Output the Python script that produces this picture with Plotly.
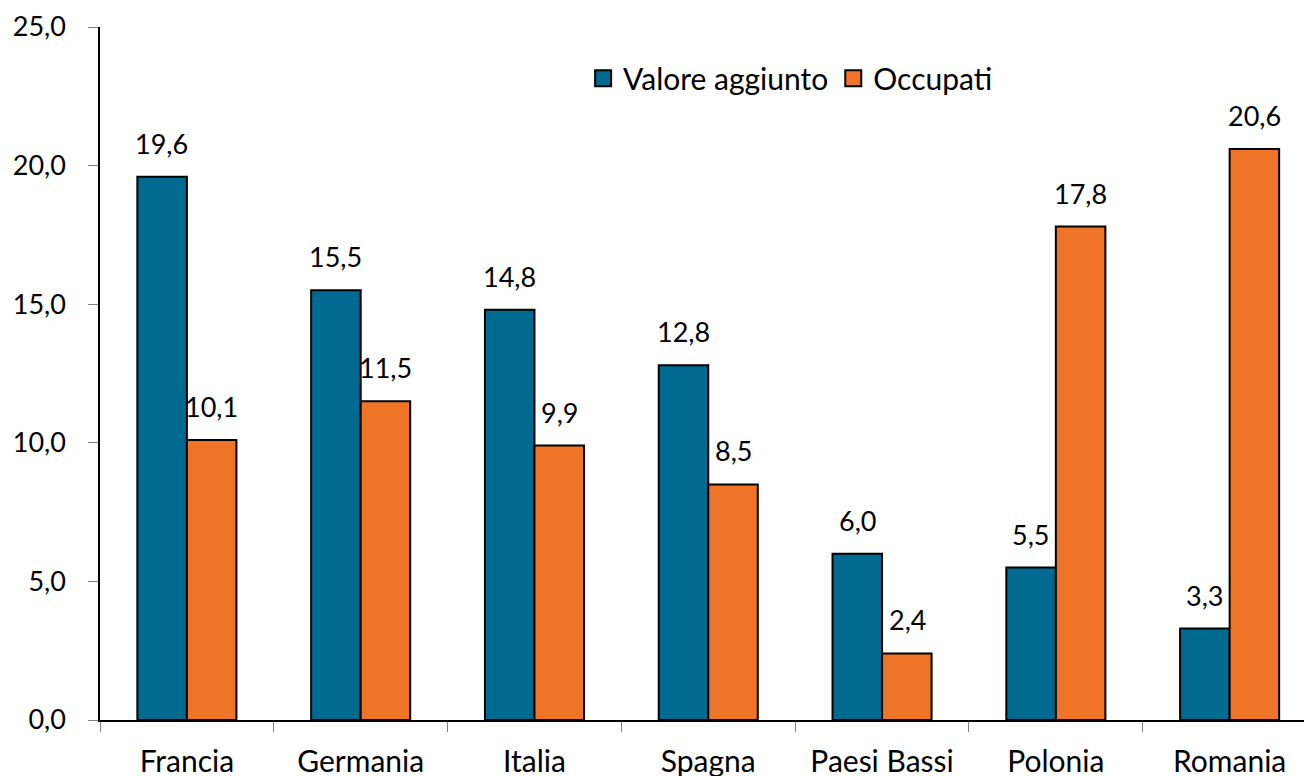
import plotly.graph_objects as go

categories = ["Francia", "Germania", "Italia", "Spagna", "Paesi Bassi", "Polonia", "Romania"]
valore_aggiunto = [19.6, 15.5, 14.8, 12.8, 6.0, 5.5, 3.3]
occupati = [10.1, 11.5, 9.9, 8.5, 2.4, 17.8, 20.6]
y_ticks = [0, 5, 10, 15, 20, 25]

FONT = "Lato"
BLUE = "#006A91"
ORANGE = "#F07427"
NUM_SIZE = 27
WORD_SIZE = 30

fig = go.Figure()
for name, vals, col, shift in [("Valore aggiunto", valore_aggiunto, BLUE, -25),
                               ("Occupati", occupati, ORANGE, 25)]:
    fig.add_trace(go.Bar(
        name=name, x=categories, y=vals, showlegend=False,
        marker=dict(color=col, line=dict(color="black", width=2)),
    ))
    for c, v in zip(categories, vals):
        fig.add_annotation(x=c, y=v, text=f"{v:.1f}".replace(".", ","),
                           xshift=shift, yshift=15, yanchor="bottom", showarrow=False,
                           font=dict(size=NUM_SIZE, family=FONT, color="black"))
    # legend proxy
    fig.add_trace(go.Scatter(
        name=name, x=[None], y=[None], mode="markers",
        marker=dict(symbol="square", size=16, color=col, line=dict(color="black", width=2)),
    ))

fig.update_layout(
    width=1312, height=776,
    margin=dict(l=92, r=0, t=19, b=64),
    paper_bgcolor="white", plot_bgcolor="white",
    separators=",.",
    barmode="group", bargap=0.43, bargroupgap=0,
    font=dict(family=FONT, size=WORD_SIZE, color="black"),
    legend=dict(orientation="h", x=0.396, y=0.926, xanchor="left", yanchor="middle",
                font=dict(size=WORD_SIZE), bgcolor="rgba(0,0,0,0)", traceorder="normal",
                itemwidth=30, itemsizing="trace"),
    xaxis=dict(range=[-0.5, 6.52], showline=True, linecolor="black", linewidth=1.5,
               ticks="outside", tickson="boundaries", ticklen=10, tickcolor="#808080",
               tickfont=dict(size=WORD_SIZE), showgrid=False, automargin=False,
               ticklabelstandoff=14),
    yaxis=dict(range=[0, 25], tickvals=y_ticks, tickformat=".1f", showline=True,
               linecolor="black", linewidth=1.5, ticks="outside", ticklen=10,
               tickcolor="#808080", tickfont=dict(size=NUM_SIZE), showgrid=False,
               zeroline=False, ticklabelstandoff=17, automargin=False),
)
fig.write_html("out.html")
